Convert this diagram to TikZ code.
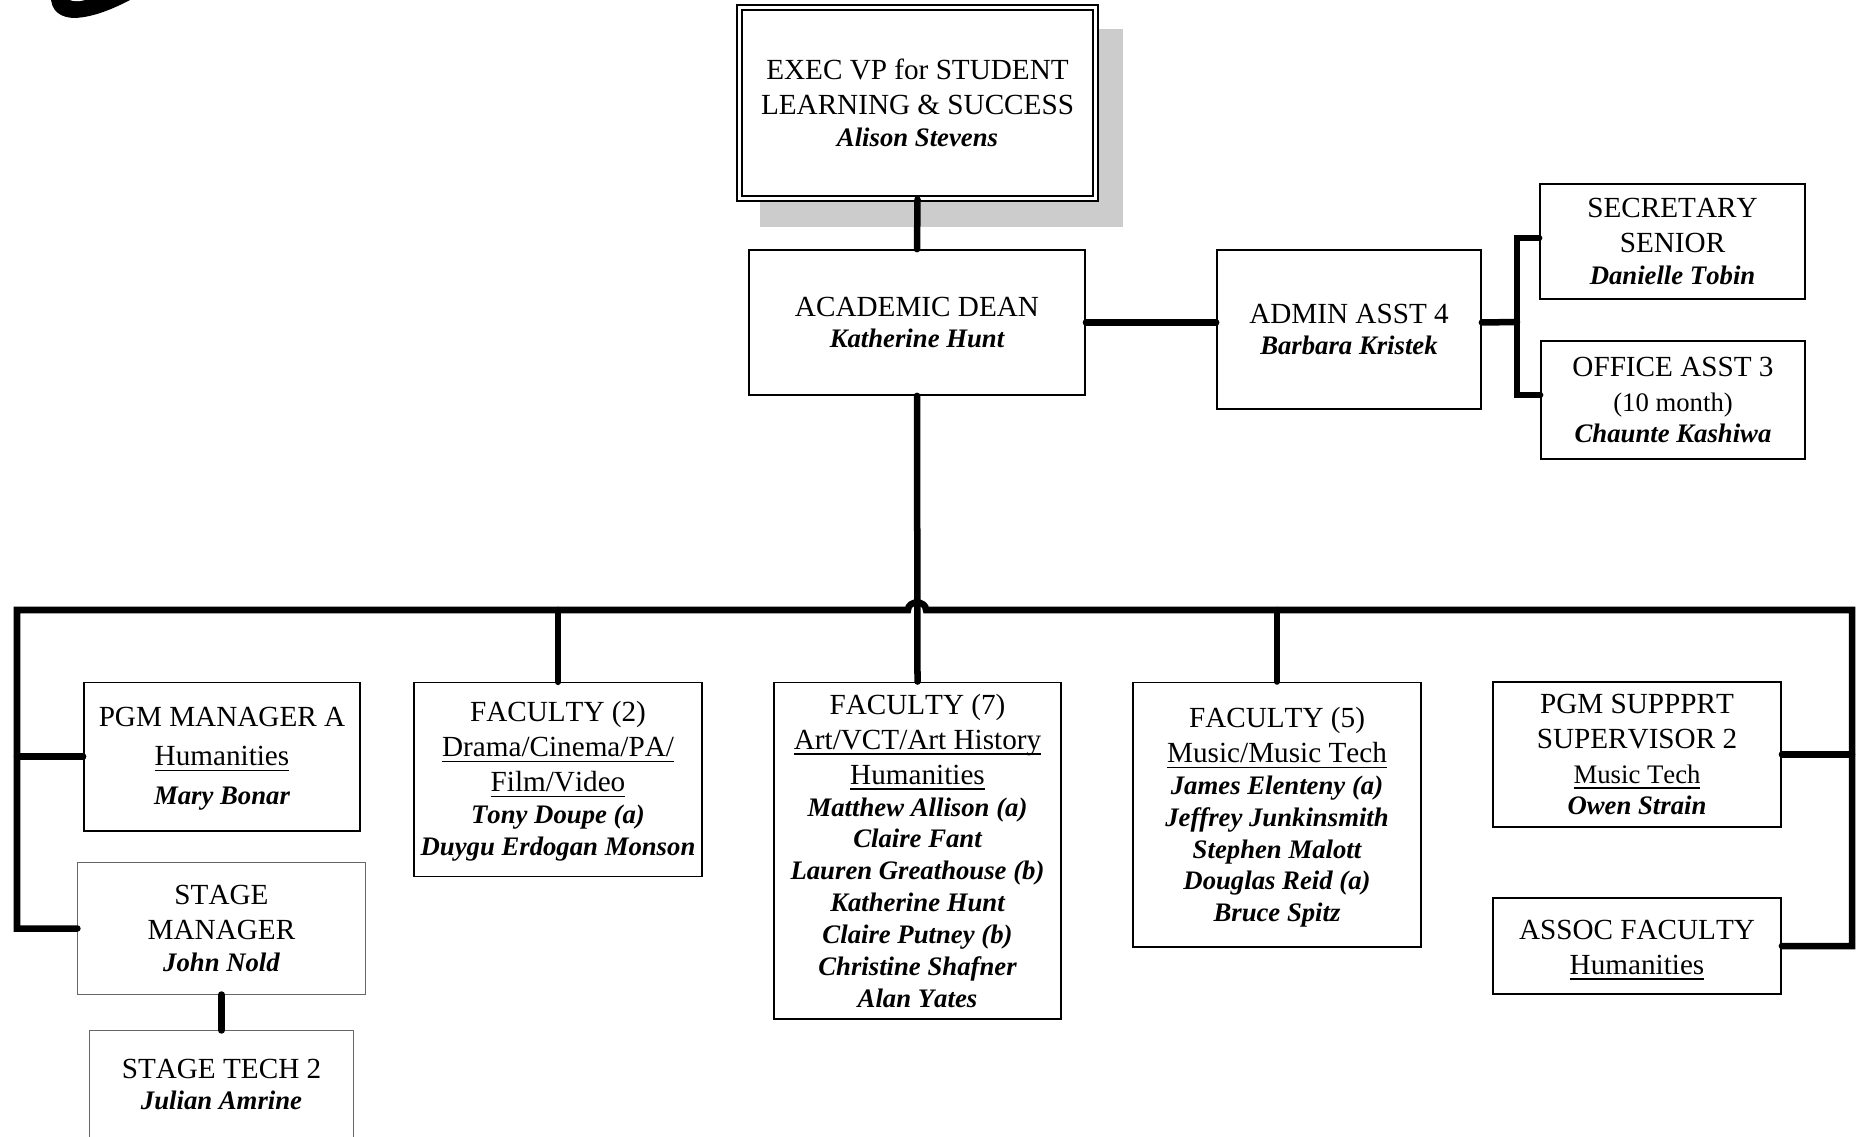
\documentclass[tikz,border=0pt]{standalone}
\usepackage{fontspec}
\setmainfont{Liberation Serif}[Kerning=Off]
\newcommand{\nm}[1]{{\fontsize{7.6}{9.96}\selectfont\bfseries\itshape #1}}
\newcommand{\sm}[1]{{\fontsize{7.6}{9.96}\selectfont #1}}
\newcommand{\ulne}[1]{\underline{\smash{\mbox{#1}}}}
\newcommand{\dn}[1]{\rule{0pt}{#1}}
\tikzset{
    orgbox/.style={draw, fill=white, line width=0.016cm, inner sep=0, align=center,
        font=\fontsize{8.3}{9.96}\selectfont},
    thinbox/.style={orgbox, draw=black!60, line width=0.01cm},
    link/.style={line width=0.065cm, line cap=round},
}
\begin{document}
\begin{tikzpicture}[x=0.01cm, y=-0.01cm]
    \clip (0,0) rectangle (1858,1137);
    % logo remnant
    \fill (51,-5) .. controls (50,12) and (62,18) .. (75,18) .. controls (95,17) and (115,8) .. (134,-2) -- cycle;
    \fill[white] (68,-1) .. controls (72,2) and (80,2) .. (88,-1) -- cycle;
    % top
    \fill[black!20] (760,29) rectangle (1123,227);
    \node[orgbox, double, double distance=0.032cm, line width=0.018cm, minimum width=3.56cm, minimum height=1.905cm] (exec) at (917.5,103.2)
        {EXEC VP for STUDENT\\LEARNING \& SUCCESS\\[-0.9pt]\nm{Alison Stevens}};
    \node[orgbox, minimum width=3.36cm, minimum height=1.45cm] (dean) at (917,322.5)
        {ACADEMIC DEAN\\[-0.9pt]\nm{Katherine Hunt}};
    \node[orgbox, minimum width=2.64cm, minimum height=1.59cm] (admin) at (1349,329.5)
        {ADMIN ASST 4\\[-0.9pt]\nm{Barbara Kristek}};
    \node[orgbox, minimum width=2.65cm, minimum height=1.15cm] (secr) at (1672.5,241.5)
        {SECRETARY\\SENIOR\\[-0.9pt]\nm{Danielle Tobin}};
    \node[orgbox, minimum width=2.64cm, minimum height=1.18cm] (office) at (1673,400)
        {OFFICE ASST 3\\\sm{(10 month)}\\[-0.9pt]\nm{Chaunte Kashiwa}};
    % left column
    \node[orgbox, minimum width=2.76cm, minimum height=1.485cm] (pgmmgr) at (222,756.7)
        {\dn{6.6pt}PGM MANAGER A\\[1.2pt]\ulne{Humanities}\\[1.2pt]\nm{Mary Bonar}};
    \node[thinbox, minimum width=2.87cm, minimum height=1.31cm] (stagemgr) at (221.5,928.5)
        {STAGE\\MANAGER\\[-0.9pt]\nm{John Nold}};
    \node[thinbox, minimum width=2.63cm, minimum height=1.6cm] (stagetech) at (221.5,1111)
        {};
    \node[font=\fontsize{8.3}{9.96}\selectfont, inner sep=0, align=center] (techtext) at (221.5,1084.5)
        {STAGE TECH 2\\[-0.9pt]\nm{Julian Amrine}};
    % faculty
    \node[orgbox, minimum width=2.88cm, minimum height=1.935cm] (fac2) at (558,779.5)
        {\dn{6.8pt}FACULTY (2)\\\ulne{Drama/Cinema/PA/}\\\ulne{Film/Video}\\[-0.9pt]\nm{Tony Doupe (a)}\\[-0.9pt]\nm{Duygu Erdogan Monson}};
    \node[orgbox, minimum width=2.87cm, minimum height=3.365cm] (fac7) at (917.5,850.7)
        {FACULTY (7)\\\ulne{Art/VCT/Art History}\\\ulne{Humanities}\\[-0.9pt]\nm{Matthew Allison (a)}\\[-0.9pt]\nm{Claire Fant}\\[-0.9pt]\nm{Lauren Greathouse (b)}\\[-0.9pt]\nm{Katherine Hunt}\\[-0.9pt]\nm{Claire Putney (b)}\\[-0.9pt]\nm{Christine Shafner}\\[-0.9pt]\nm{Alan Yates}};
    \node[orgbox, minimum width=2.88cm, minimum height=2.645cm] (fac5) at (1277,814.7)
        {\dn{7.3pt}FACULTY (5)\\\ulne{Music/Music Tech}\\[-0.9pt]\nm{James Elenteny (a)}\\[-0.9pt]\nm{Jeffrey Junkinsmith}\\[-0.9pt]\nm{Stephen Malott}\\[-0.9pt]\nm{Douglas Reid (a)}\\[-0.9pt]\nm{Bruce Spitz}};
    % right column
    \node[orgbox, minimum width=2.88cm, minimum height=1.45cm] (support) at (1637,754.5)
        {PGM SUPPPRT\\SUPERVISOR 2\\\sm{\ulne{Music Tech}}\\[-0.9pt]\nm{Owen Strain}};
    \node[orgbox, minimum width=2.88cm, minimum height=0.96cm] (assoc) at (1637,946)
        {\dn{8.1pt}ASSOC FACULTY\\\ulne{Humanities}};
    % connectors
    \coordinate (busl) at (17,610);
    \coordinate (bumpl) at (908,610);
    \coordinate (bumpr) at (926,610);
    \coordinate (busr) at (1852,610);
    \coordinate (brace) at (1517,322);
    \draw[link] (exec.south) -- (dean.north);
    \draw[link] (dean.south) -- (fac7.north);
    \draw[link] (dean.east) -- (dean.east -| admin.west);
    \draw[link] (dean.east -| admin.east) -- (brace);
    \draw[link] ([yshift=0.035cm]secr.west) -| (brace);
    \draw[link] ([yshift=0.05cm]office.west) -| (brace);
    \draw[link] (stagemgr.west) -| (busl) -- (bumpl) .. controls (908,600) and (926,600) .. (bumpr) -- (busr) |- (assoc.east);
    \draw[link] (pgmmgr.west) -- (pgmmgr.west -| busl);
    \draw[link] (support.east) -- (support.east -| busr);
    \draw[link] (stagemgr.south) -- (stagetech.north);
    \draw[link] (fac2.north) -- (fac2.north |- busl);
    \draw[link] (fac5.north) -- (fac5.north |- busl);
\end{tikzpicture}
\end{document}
